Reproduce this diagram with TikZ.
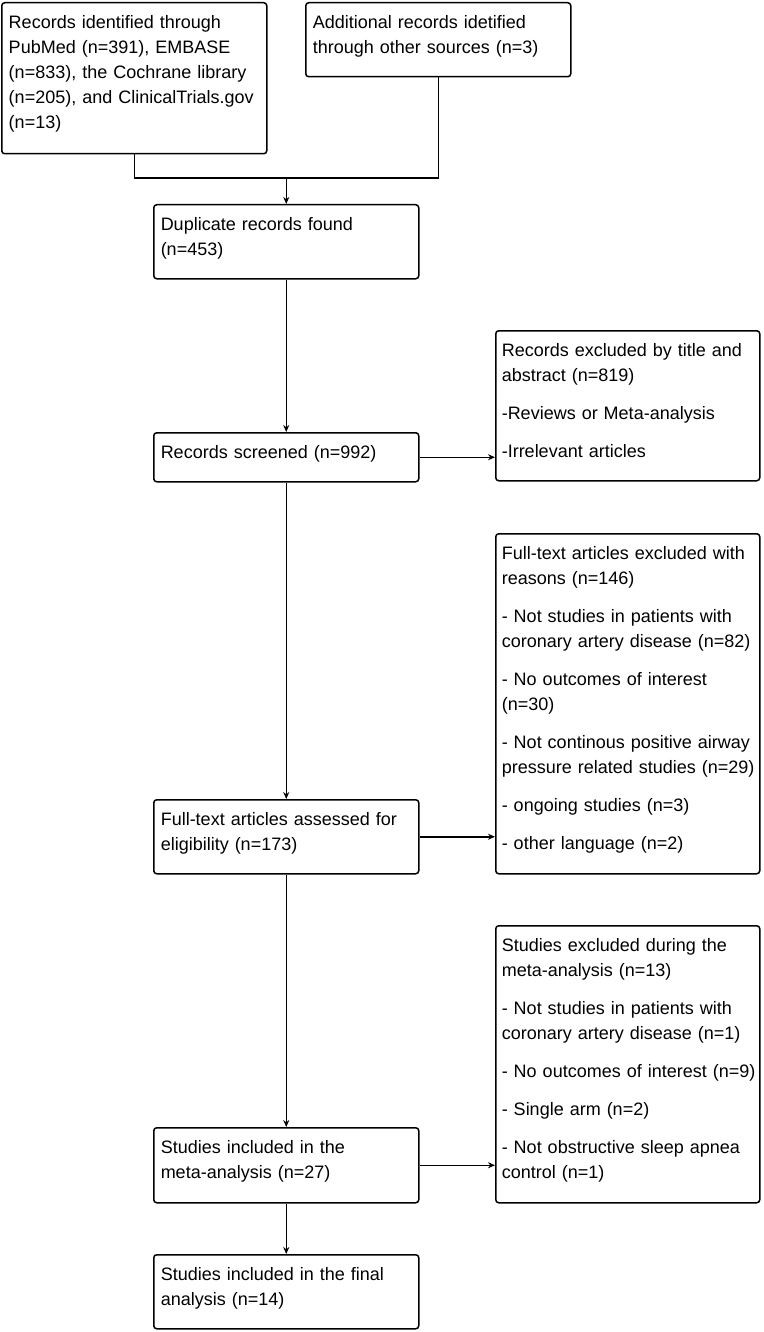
\documentclass[tikz,border=0pt]{standalone}
\usepackage{fontspec}
\setmainfont{Liberation Sans}
\usetikzlibrary{arrows.meta}
\tikzset{
  box/.style={draw, line width=1.5pt, rounded corners=3pt, anchor=north west,
    align=left, inner xsep=7pt, inner ysep=0pt, text height=26pt,
    font=\fontsize{18}{25}\selectfont},
  lbox/.style={box, text width=251pt},
  rbox/.style={box, inner xsep=6pt, text width=252pt},
  conn/.style={line width=1.5pt},
  arr/.style={conn, -{Stealth[length=7pt,width=6pt]}}
}
\newcommand{\gap}{\\[13pt]}
\begin{document}
\begin{tikzpicture}[x=1pt,y=-1pt]
\useasboundingbox (0,0) rectangle (763,1332);
\node[lbox, text depth=125pt] (A) at (1,2)
  {Records identified through\\PubMed (n=391), EMBASE\\(n=833), the Cochrane library\\(n=205), and ClinicalTrials.gov\\(n=13)};
\node[lbox, text depth=48pt] (B) at (305,2)
  {Additional records idetified\\through other sources (n=3)};
\node[lbox, text depth=48pt] (dup) at (153,204)
  {Duplicate records found\\(n=453)};
\node[lbox, text depth=23pt] (scr) at (153,432)
  {Records screened (n=992)};
\node[rbox, text depth=124pt] (ex1) at (495,330)
  {Records excluded by title and\\abstract (n=819)\gap -Reviews or Meta-analysis\gap -Irrelevant articles};
\node[lbox, text depth=48pt] (ft) at (153,799)
  {Full-text articles assessed for\\eligibility (n=173)};
\node[rbox, text depth=314pt] (ex2) at (495,533)
  {\mbox{Full-text articles excluded with}\\reasons (n=146)\gap
   \mbox{- Not studies in patients with}\\\mbox{coronary artery disease (n=82)}\gap
   - No outcomes of interest\\(n=30)\gap
   \mbox{- Not continous positive airway}\\\mbox{pressure related studies (n=29)}\gap
   - ongoing studies (n=3)\gap
   - other language (n=2)};
\node[lbox, text depth=49pt] (meta) at (153,1127)
  {Studies included in the\\meta-analysis (n=27)};
\node[rbox, text depth=251pt] (ex3) at (495,925)
  {Studies excluded during the\\meta-analysis (n=13)\gap
   \mbox{- Not studies in patients with}\\\mbox{coronary artery disease (n=1)}\gap
   \mbox{- No outcomes of interest (n=9)}\gap
   - Single arm (n=2)\gap
   \mbox{- Not obstructive sleep apnea}\\control (n=1)};
\node[lbox, text depth=48pt] (fin) at (153,1254)
  {Studies included in the final\\analysis (n=14)};
\coordinate (j) at (286,178);
\draw[conn] (A.south) -- (A.south |- j) -- (j -| B.south) -- (B.south);
\draw[arr] (j -| dup.north) -- (dup.north);
\draw[arr] (dup.south) -- (scr.north);
\draw[arr] (scr.south) -- (ft.north);
\draw[arr] (ft.south) -- (meta.north);
\draw[arr] (meta.south) -- (fin.north);
\draw[arr] (scr.east) -- (scr.east -| ex1.west);
\draw[arr] (ft.east) -- (ft.east -| ex2.west);
\draw[arr] (meta.east) -- (meta.east -| ex3.west);
\end{tikzpicture}
\end{document}
